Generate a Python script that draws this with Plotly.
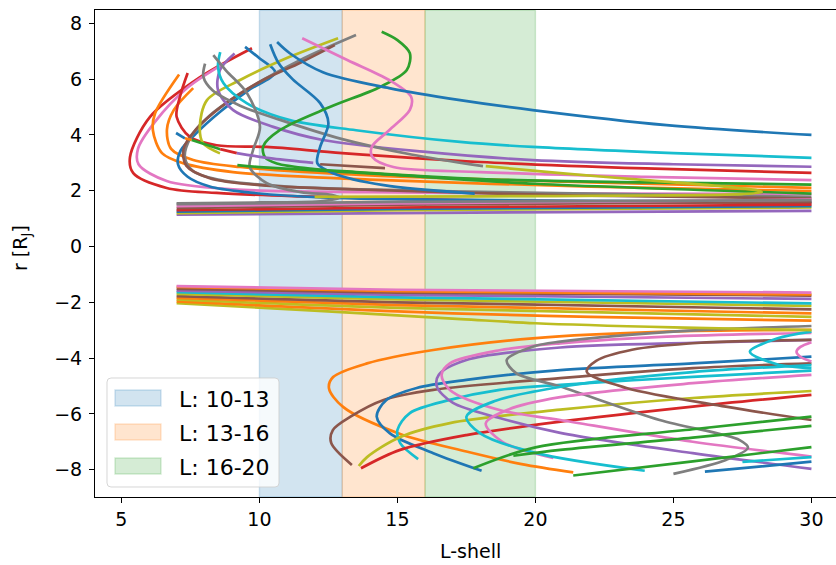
import plotly.graph_objects as go

# ---------------------------------------------------------------------------
# Field-line traces: L-shell vs. radial distance r [R_J]
# ---------------------------------------------------------------------------

# --- northern hemisphere (r > 0) ---
n_red_outer_L = [9.73, 7.85, 6.03, 5.31, 5.43, 6.64, 8.45, 11.5, 18, 30]
n_red_outer_r = [7.11, 6.07, 4.64, 3.2, 2.63, 2.1, 1.92, 1.8, 1.66, 1.55]

n_pink_outer_L = [8.7, 7.4, 6.2, 5.6, 5.62, 6.64, 9.05, 14, 22, 30]
n_pink_outer_r = [6.55, 5.7, 4.45, 3.5, 2.95, 2.35, 2.05, 1.95, 1.9, 1.88]

n_red_inner_L = [7.4, 7.12, 7.0, 7.48, 8.45, 10.26, 13, 18, 24, 30]
n_red_inner_r = [6.22, 5.37, 4.65, 3.93, 3.63, 3.57, 3.35, 3.03, 2.8, 2.64]

n_orange_outer_L = [7.09, 6.22, 6.14, 6.47, 7.23, 9.04, 14, 22, 30]
n_orange_outer_r = [6.17, 4.78, 4.17, 3.35, 2.99, 2.67, 2.4, 2.15, 1.99]

n_orange_inner_L = [7.6, 6.9, 6.65, 6.8, 7.6, 9.3, 14, 22, 30]
n_orange_inner_r = [5.68, 4.9, 4.2, 3.5, 3.1, 2.85, 2.55, 2.3, 2.1]

n_blue_s_L = [10.39, 10.68, 11.2, 12.2, 12.5, 12.2, 12.1, 12.67, 14.5, 17.8]
n_blue_s_r = [7.25, 6.6, 6.0, 5.14, 4.42, 3.57, 2.98, 2.63, 2.2, 1.9]

n_blue_hook_L = [9.48, 10.0, 10.57, 9.6, 8.6, 7.7, 7.15, 7.05, 7.4, 8.2, 9.5, 12.5, 20, 30]
n_blue_hook_r = [7.16, 6.75, 6.25, 5.6, 4.85, 4.05, 3.45, 2.95, 2.5, 2.15, 1.95, 1.75, 1.65, 1.6]

n_blue_long_L = [10.64, 11.1, 12.3, 14.7, 17.27, 19.9, 24.75, 30]
n_blue_long_r = [7.33, 6.93, 6.25, 5.68, 5.25, 4.89, 4.35, 4.0]

n_cyan_L = [8.58, 8.5, 8.7, 9.55, 11.1, 13.5, 17.27, 19.9, 25, 30]
n_cyan_r = [6.97, 6.44, 5.85, 5.13, 4.53, 4.17, 3.75, 3.57, 3.35, 3.18]

n_purple_L = [9.1, 8.57, 8.5, 9.05, 10.5, 12.3, 15.93, 19.9, 25, 30]
n_purple_r = [6.92, 6.33, 5.61, 4.89, 4.29, 3.82, 3.4, 3.1, 2.95, 2.86]

n_green_s_L = [14.43, 15.0, 15.45, 15.34, 14.37, 12.55, 10.75, 10.14, 10.2, 10.63, 12, 13.5, 18, 24, 30]
n_green_s_r = [7.7, 7.4, 6.93, 6.33, 5.72, 5.0, 4.18, 3.6, 3.2, 2.98, 2.78, 2.67, 2.42, 2.3, 2.22]

n_pink_s_L = [11.55, 13.2, 14.7, 15.5, 15.45, 14.7, 14.07, 14.1, 14.85, 18, 24, 30]
n_pink_s_r = [7.47, 6.68, 5.97, 5.36, 4.9, 4.17, 3.57, 3.2, 2.85, 2.67, 2.5, 2.38]

n_gray_s_L = [8.33, 8.8, 9.55, 10.02, 9.77, 9.65, 10.27, 11.5, 12.6, 12.9, 12.3, 10, 7]
n_gray_s_r = [6.86, 6.3, 5.5, 4.29, 3.46, 2.85, 2.27, 1.95, 1.85, 1.75, 1.63, 1.58, 1.55]

n_gray_diag_L = [8.03, 7.97, 8.3, 9.3, 10.75, 13, 15.5, 18.1]
n_gray_diag_r = [6.56, 6.08, 5.6, 5.05, 4.54, 3.85, 3.3, 2.88]

n_gray_arm_L = [13.5, 11.47, 9.5, 8.2, 7.5, 7.3, 7.6, 8.5, 11, 16, 22, 30]
n_gray_arm_r = [7.58, 6.68, 5.6, 4.7, 3.9, 3.2, 2.7, 2.4, 2.15, 2.0, 1.9, 1.78]

n_brown_arm_L = [12.73, 11.5, 10, 8.6, 7.7, 7.25, 7.35, 8.2, 10, 15, 22, 30]
n_brown_arm_r = [7.22, 6.6, 5.9, 5.0, 4.2, 3.5, 2.9, 2.45, 2.2, 2.0, 1.82, 1.72]

n_olive_arm_L = [12.85, 11.1, 9.3, 8.1, 7.84, 7.96, 8.57]
n_olive_arm_r = [7.47, 6.8, 5.97, 5.25, 4.29, 3.7, 3.34]

n_olive_hook_L = [18.2, 21, 24, 26.5, 28.0, 28.2, 27.5, 24, 18, 12]
n_olive_hook_r = [2.88, 2.62, 2.38, 2.18, 2.02, 1.95, 1.88, 1.83, 1.8, 1.78]

n_green_line_L = [9.2, 10, 14, 20, 30]
n_green_line_r = [2.92, 2.85, 2.62, 2.25, 1.9]

# short consecutive pieces of one trace
n_seg_blue_L, n_seg_blue_r = [6.98, 7.3], [4.07, 3.88]
n_seg_orange_L, n_seg_orange_r = [7.3, 7.55], [3.88, 3.82]
n_seg_green_L, n_seg_green_r = [7.55, 8.58], [3.82, 3.49]
n_seg_red_L, n_seg_red_r = [8.58, 9.18], [3.49, 3.35]
n_seg_purple_L, n_seg_purple_r = [9.18, 10.5, 11.95], [3.35, 3.15, 3.0]
n_seg_brown_L, n_seg_brown_r = [12.2, 14.55], [2.95, 2.81]

# nearly constant-r traces
flat_L = [7, 15, 30]
n_flat_purple_r = [1.14, 1.2, 1.28]
n_flat_olive_r = [1.2, 1.3, 1.4]
n_flat_blue_r = [1.25, 1.35, 1.45]
n_flat_red_r = [1.3, 1.4, 1.5]
n_flat_brown_r = [1.38, 1.5, 1.6]
n_flat_pink_r = [1.45, 1.55, 1.68]
n_flat_gray_r = [1.52, 1.6, 1.66]

# --- southern hemisphere (r < 0) ---
s_flat_pink_r = [-1.42, -1.55, -1.65]
s_flat_orange_r = [-1.45, -1.6, -1.72]
s_flat_brown_r = [-1.52, -1.65, -1.76]
s_flat_purple_r = [-1.58, -1.73, -1.88]
s_flat_cyan_r = [-1.64, -1.82, -2.04]
s_flat_olive_r = [-1.7, -1.9, -2.13]
s_flat_brown2_r = [-1.78, -2.0, -2.25]
s_flat_orange2_r = [-1.84, -2.1, -2.4]
s_flat_olive2_r = [-1.9, -2.2, -2.52]
s_orange3_L = [7, 12, 17, 22, 30]
s_orange3_r = [-1.97, -2.2, -2.4, -2.52, -2.66]
s_olive3_L = [7, 12, 17.3, 20, 25, 30]
s_olive3_r = [-2.03, -2.3, -2.6, -2.75, -2.9, -3.0]

s_orange_hook_L = [30, 24.75, 19.9, 16.3, 13.9, 12.67, 12.52, 13.03, 15.1, 17.5, 19.5, 21.37]
s_orange_hook_r = [-2.99, -3.05, -3.29, -3.71, -4.19, -4.68, -5.08, -5.75, -6.72, -7.35, -7.8, -8.1]

s_brown_hook_L = [13.35, 12.6, 12.66, 13.3, 14.5, 16.3, 20.9, 25.7, 30]
s_brown_hook_r = [-7.83, -7.04, -6.58, -6.1, -5.5, -5.14, -4.72, -4.36, -4.19]

s_blue_hook_L = [18.05, 16.3, 14.73, 14.25, 14.6, 15.7, 17.5, 20.9, 25.7, 30]
s_blue_hook_r = [-8.04, -7.41, -6.7, -6.1, -5.5, -5.07, -4.78, -4.43, -4.19, -3.95]

s_cyan_hook_L = [15.75, 15.1, 15.0, 15.45, 16.9, 18.7, 20.9, 25.7, 30]
s_cyan_hook_r = [-7.62, -7.05, -6.58, -5.97, -5.5, -5.14, -4.96, -4.67, -4.45]

s_olive_L = [13.6, 13.9, 15.1, 16.9, 20.9, 25.7, 30]
s_olive_r = [-7.87, -7.55, -6.83, -6.33, -5.85, -5.43, -5.18]

s_red_L = [13.68, 15.1, 17.5, 20.9, 25.7, 30]
s_red_r = [-7.95, -7.29, -6.76, -6.28, -5.74, -5.32]

s_pink_hook_L = [30, 24.75, 20.9, 18.7, 16.9, 16.6, 16.9, 18.7, 20.9, 25.7, 30]
s_pink_hook_r = [-3.1, -3.23, -3.47, -3.72, -4.19, -4.6, -5.14, -5.86, -6.22, -7.0, -7.53]

s_purple_hook_L = [30, 25.7, 20.9, 17.5, 16.5, 16.43, 17.0, 18.7, 20.9, 25.7, 30]
s_purple_hook_r = [-3.35, -3.45, -3.62, -4.07, -4.6, -5.02, -5.6, -6.15, -6.68, -7.41, -7.97]

s_pink_hook2_L = [30, 25.7, 20.9, 19, 18.2, 18.8, 20.65]
s_pink_hook2_r = [-4.6, -4.9, -5.4, -5.85, -6.34, -7.0, -7.58]

s_cyan_hook2_L = [30, 25.7, 21.1, 18.5, 17.5, 18.0, 20, 23.96]
s_cyan_hook2_r = [-4.25, -4.5, -5.0, -5.55, -6.1, -6.7, -7.4, -8.04]

s_gray_hook_L = [30, 25, 20.9, 19.9, 18.96, 19.3, 20.9, 24.5, 27.4, 27.7, 26.9, 25.0]
s_gray_hook_r = [-2.85, -3.05, -3.41, -3.59, -4.07, -4.54, -5.02, -6.22, -6.94, -7.22, -7.65, -8.15]

s_brown_hook2_L = [30, 26, 23.5, 22.2, 21.86, 23.3, 26.9, 30]
s_brown_hook2_r = [-3.35, -3.45, -3.7, -4.1, -4.49, -5.07, -5.74, -6.22]

s_cyan_hook3_L = [30, 28.75, 27.77, 28.75, 30]
s_cyan_hook3_r = [-3.05, -3.3, -3.77, -4.22, -4.36]

s_pink_hook3_L = [30, 29.6, 29.46, 29.6, 30]
s_pink_hook3_r = [-3.43, -3.6, -3.77, -3.95, -4.12]

s_green1_L = [17.75, 20, 25.7, 30]
s_green1_r = [-7.95, -7.2, -6.55, -6.1]
s_green2_L = [19.2, 20.9, 25.7, 30]
s_green2_r = [-7.5, -7.29, -6.85, -6.43]
s_green3_L = [21.37, 25.7, 30]
s_green3_r = [-8.21, -7.7, -7.19]
s_blue2_L = [26.14, 28, 30]
s_blue2_r = [-8.07, -7.9, -7.71]
s_cyan4_L = [27.5, 30]
s_cyan4_r = [-7.72, -7.55]

# L-shell bands
band_edges = [10, 13, 16, 20]
band_labels = ["L: 10-13", "L: 13-16", "L: 16-20"]

# axis ticks
x_ticks = [5, 10, 15, 20, 25, 30]
y_ticks = [-8, -6, -4, -2, 0, 2, 4, 6, 8]

# ---------------------------------------------------------------------------
C = {
    "blue": "#1f77b4", "orange": "#ff7f0e", "green": "#2ca02c", "red": "#d62728",
    "purple": "#9467bd", "brown": "#8c564b", "pink": "#e377c2", "gray": "#7f7f7f",
    "olive": "#bcbd22", "cyan": "#17becf",
}
RGB = {
    "blue": (31, 119, 180), "orange": (255, 127, 14), "green": (44, 160, 44),
}

curves = [
    (n_red_outer_L, n_red_outer_r, "red"),
    (n_pink_outer_L, n_pink_outer_r, "pink"),
    (n_orange_outer_L, n_orange_outer_r, "orange"),
    (n_orange_inner_L, n_orange_inner_r, "orange"),
    (n_red_inner_L, n_red_inner_r, "red"),
    (n_blue_hook_L, n_blue_hook_r, "blue"),
    (n_gray_arm_L, n_gray_arm_r, "gray"),
    (n_brown_arm_L, n_brown_arm_r, "brown"),
    (n_olive_arm_L, n_olive_arm_r, "olive"),
    (n_purple_L, n_purple_r, "purple"),
    (n_cyan_L, n_cyan_r, "cyan"),
    (n_gray_diag_L, n_gray_diag_r, "gray"),
    (n_gray_s_L, n_gray_s_r, "gray"),
    (n_green_line_L, n_green_line_r, "green"),
    (n_blue_s_L, n_blue_s_r, "blue"),
    (n_green_s_L, n_green_s_r, "green"),
    (n_pink_s_L, n_pink_s_r, "pink"),
    (n_blue_long_L, n_blue_long_r, "blue"),
    (n_olive_hook_L, n_olive_hook_r, "olive"),
    (n_seg_blue_L, n_seg_blue_r, "blue"),
    (n_seg_orange_L, n_seg_orange_r, "orange"),
    (n_seg_green_L, n_seg_green_r, "green"),
    (n_seg_red_L, n_seg_red_r, "red"),
    (n_seg_purple_L, n_seg_purple_r, "purple"),
    (n_seg_brown_L, n_seg_brown_r, "brown"),
    (flat_L, n_flat_purple_r, "purple"),
    (flat_L, n_flat_olive_r, "olive"),
    (flat_L, n_flat_blue_r, "blue"),
    (flat_L, n_flat_red_r, "red"),
    (flat_L, n_flat_brown_r, "brown"),
    (flat_L, n_flat_pink_r, "pink"),
    (flat_L, n_flat_gray_r, "gray"),
    # south
    (s_orange_hook_L, s_orange_hook_r, "orange"),
    (s_brown_hook_L, s_brown_hook_r, "brown"),
    (s_blue_hook_L, s_blue_hook_r, "blue"),
    (s_cyan_hook_L, s_cyan_hook_r, "cyan"),
    (s_olive_L, s_olive_r, "olive"),
    (s_red_L, s_red_r, "red"),
    (s_purple_hook_L, s_purple_hook_r, "purple"),
    (s_pink_hook_L, s_pink_hook_r, "pink"),
    (s_gray_hook_L, s_gray_hook_r, "gray"),
    (s_pink_hook2_L, s_pink_hook2_r, "pink"),
    (s_cyan_hook2_L, s_cyan_hook2_r, "cyan"),
    (s_brown_hook2_L, s_brown_hook2_r, "brown"),
    (s_cyan_hook3_L, s_cyan_hook3_r, "cyan"),
    (s_pink_hook3_L, s_pink_hook3_r, "pink"),
    (s_green1_L, s_green1_r, "green"),
    (s_green2_L, s_green2_r, "green"),
    (s_green3_L, s_green3_r, "green"),
    (s_blue2_L, s_blue2_r, "blue"),
    (s_cyan4_L, s_cyan4_r, "cyan"),
    (s_olive3_L, s_olive3_r, "olive"),
    (s_orange3_L, s_orange3_r, "orange"),
    (flat_L, s_flat_olive2_r, "olive"),
    (flat_L, s_flat_orange2_r, "orange"),
    (flat_L, s_flat_brown2_r, "brown"),
    (flat_L, s_flat_olive_r, "olive"),
    (flat_L, s_flat_cyan_r, "cyan"),
    (flat_L, s_flat_purple_r, "purple"),
    (flat_L, s_flat_brown_r, "brown"),
    (flat_L, s_flat_orange_r, "orange"),
    (flat_L, s_flat_pink_r, "pink"),
]

FONT = "DejaVu Sans"
TICK_SIZE = 19
LEGEND_SIZE = 22
W, H = 836, 565
ML, MR, MT, MB = 95, 0, 10, 68
PW, PH = W - ML - MR, H - MT - MB


def px_x(px):
    return (px - ML) / PW


def px_y(py):
    return (H - MB - py) / PH


fig = go.Figure()
for L, r, c in curves:
    fig.add_trace(go.Scatter(
        x=L, y=r, mode="lines",
        line=dict(color=C[c], width=2.7, shape="spline", smoothing=0.9),
        showlegend=False, hoverinfo="skip",
    ))

shapes = []
band_colors = ["blue", "orange", "green"]
for i, lab in enumerate(band_labels):
    rgb = RGB[band_colors[i]]
    rgba = "rgba(%d,%d,%d,0.2)" % rgb
    shapes.append(dict(
        type="rect", xref="x", yref="paper",
        x0=band_edges[i], x1=band_edges[i + 1], y0=0, y1=1,
        fillcolor=rgba, line=dict(color=rgba, width=1.4), layer="below",
    ))

# legend frame (rounded box)
bx0, bx1, by0, by1 = px_x(107), px_x(279), px_y(378), px_y(487)
rx, ry = 4 / PW, 4 / PH
frame_path = (
    f"M {bx0 + rx},{by0} L {bx1 - rx},{by0} Q {bx1},{by0} {bx1},{by0 - ry} "
    f"L {bx1},{by1 + ry} Q {bx1},{by1} {bx1 - rx},{by1} "
    f"L {bx0 + rx},{by1} Q {bx0},{by1} {bx0},{by1 + ry} "
    f"L {bx0},{by0 - ry} Q {bx0},{by0} {bx0 + rx},{by0} Z"
)
shapes.append(dict(
    type="path", xref="paper", yref="paper", path=frame_path,
    fillcolor="rgba(255,255,255,0.8)", line=dict(color="rgba(204,204,204,0.8)", width=1),
    layer="above",
))

annotations = []
row_centers = [398, 432, 466]
for i, lab in enumerate(band_labels):
    rgb = RGB[band_colors[i]]
    rgba = "rgba(%d,%d,%d,0.2)" % rgb
    yc = row_centers[i]
    shapes.append(dict(
        type="rect", xref="paper", yref="paper",
        x0=px_x(115), x1=px_x(161), y0=px_y(yc - 8), y1=px_y(yc + 8),
        fillcolor=rgba, line=dict(color=rgba, width=1.4), layer="above",
    ))
    annotations.append(dict(
        xref="paper", yref="paper", x=px_x(177), y=px_y(yc + 1),
        text=lab, showarrow=False, xanchor="left", yanchor="middle",
        font=dict(family=FONT, size=LEGEND_SIZE, color="black"),
    ))

annotations.append(dict(
    xref="paper", yref="paper", x=px_x(470), y=px_y(551),
    text="L-shell", showarrow=False, xanchor="center", yanchor="middle",
    font=dict(family=FONT, size=TICK_SIZE, color="black"),
))
annotations.append(dict(
    xref="paper", yref="paper", x=px_x(21), y=px_y(248),
    text="r [R<sub>J</sub>]", showarrow=False, textangle=-90,
    xanchor="center", yanchor="middle",
    font=dict(family=FONT, size=TICK_SIZE, color="black"),
))

axis_common = dict(
    showgrid=False, zeroline=False, showline=True, linecolor="black", linewidth=1.1,
    ticks="outside", ticklen=5, tickwidth=1.1, tickcolor="black",
    tickfont=dict(family=FONT, size=TICK_SIZE, color="black"),
)

fig.update_layout(
    width=W, height=H,
    margin=dict(l=ML, r=MR, t=MT, b=MB),
    plot_bgcolor="white", paper_bgcolor="white",
    xaxis=dict(range=[4.043, 30.89], tickvals=x_ticks, mirror=True, **axis_common),
    yaxis=dict(range=[-8.98, 8.48], tickvals=y_ticks, ticklabelstandoff=3, **axis_common),
    shapes=shapes, annotations=annotations,
    showlegend=False,
)

fig.write_html("out.html")
